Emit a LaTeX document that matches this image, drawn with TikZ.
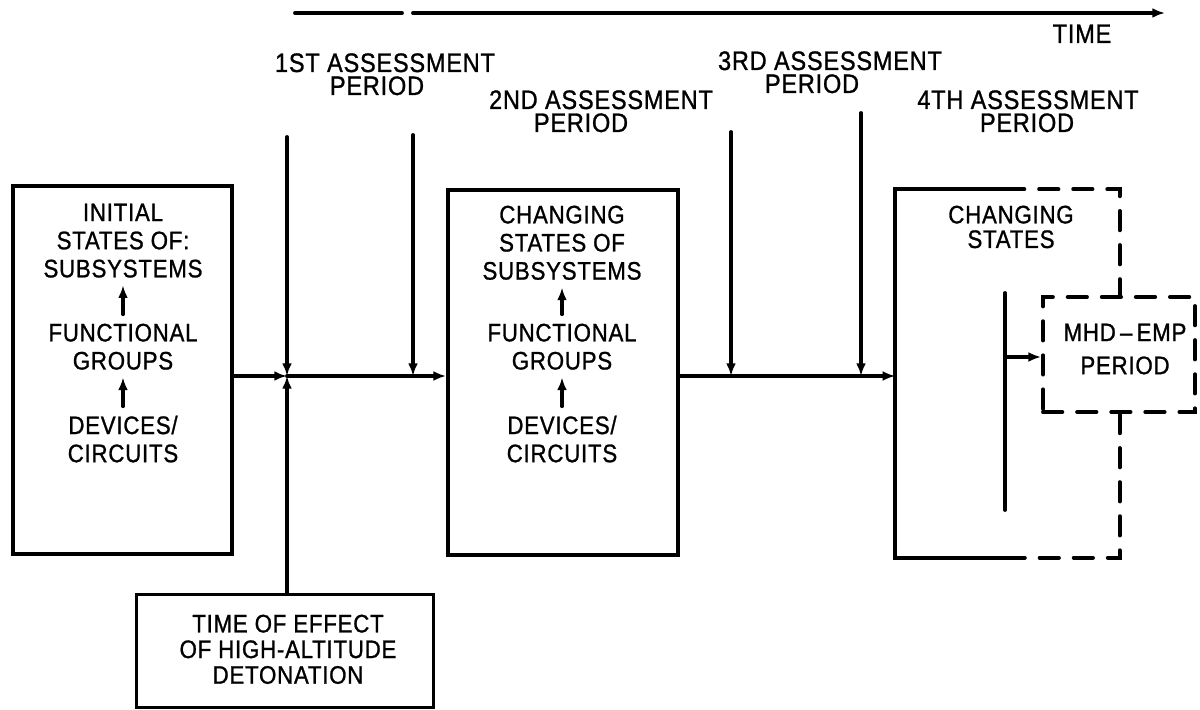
\documentclass[tikz,border=0pt]{standalone}
\usepackage{fontspec}
\usetikzlibrary{arrows.meta}
\newfontfamily\lettering[LetterSpace=3,FakeStretch=0.88,FakeBold=1]{Liberation Sans}

\tikzset{
  head/.style={font=\lettering\fontsize{7.6}{6}\selectfont, inner sep=0pt, anchor=base},
  txt/.style={font=\lettering\fontsize{7.2}{#1}\selectfont, align=center, inner sep=0pt, anchor=north},
  txt/.default=8pt,
  blk/.style={draw, line width=1.1pt},
  flow/.style={line width=1.1pt, -{Latex[length=3.6pt,width=2.8pt]}},
  brk/.style={line width=1.1pt, dash pattern=on 5.5pt off 4.2pt},
}

\begin{document}
\begin{tikzpicture}[x=0.1mm,y=-0.1mm,line cap=round]
\useasboundingbox (0,0) rectangle (1200,710);

% time axis
\coordinate (t0) at (295,13);
\coordinate (t1) at (402,13);
\coordinate (t2) at (413,13);
\coordinate (t3) at (1165,13);
\draw[line width=1.1pt] (t0) -- (t1);
\draw[flow] (t2) -- (t3);
\node[head, anchor=base west] (time) at (1052,43) {TIME};

% assessment periods
\foreach \n/\t/\x/\px/\y in {1/1ST/385/377/72, 2/2ND/601/581/109, 3/3RD/830/812/70, 4/4TH/1028/1027/109} {
  \node[head] (as\n) at (\x,\y) {\t\ ASSESSMENT};
  \node[head] (per\n) at (\px,\y+23) {PERIOD};
}

% boxes
\node[blk, minimum width=21.9mm, minimum height=36.8mm] (ini) at (122.5,370) {};
\node[blk, minimum width=23mm, minimum height=36.5mm] (cs) at (563,372.5) {};
\node[minimum width=22.3mm, minimum height=36.7mm] (chg) at (1007.5,373.5) {};
\node[draw, brk, minimum width=15.2mm, minimum height=11.5mm] (mhd) at (1119,354.5) {};
\node[blk, minimum width=29.7mm, minimum height=11.3mm] (det) at (285,651) {};

% last box: solid left half, broken right half
\coordinate (bar1) at (1005,293);
\coordinate (bar2) at (1005,510);
\draw[line width=1.1pt] (bar1 |- chg.north) -- (chg.north west) -- (chg.south west) -- (bar1 |- chg.south);
\draw[brk] (bar1 |- chg.north) -- (chg.north east) -- (chg.east |- mhd.north);
\draw[brk] (chg.east |- mhd.south) -- (chg.south east) -- (bar1 |- chg.south);
\draw[line width=1.1pt] (bar1) -- (bar2);
\coordinate (tap) at (1005,357);
\draw[flow] (tap) -- (tap -| mhd.west);

% box texts
\node[txt] (ini1) at (123,203) {INITIAL\\STATES OF:\\SUBSYSTEMS};
\node[txt] (ini2) at (123,323) {FUNCTIONAL\\GROUPS};
\node[txt] (ini3) at (123,415) {DEVICES/\\CIRCUITS};
\node[txt] (cs1) at (562,205) {CHANGING\\STATES OF\\SUBSYSTEMS};
\node[txt] (cs2) at (562,323) {FUNCTIONAL\\GROUPS};
\node[txt] (cs3) at (562,415) {DEVICES/\\CIRCUITS};
\node[txt=7pt] (chg1) at (1011,205) {CHANGING\\STATES};
\node[txt=9.4pt] (mhd1) at (1125,323) {MHD\,–\,EMP\\PERIOD};
\node[txt=7.3pt] (det1) at (288,614) {TIME OF EFFECT\\OF HIGH-ALTITUDE\\DETONATION};

\foreach \a/\b in {ini3/ini2, ini2/ini1, cs3/cs2, cs2/cs1}
  \draw[flow, shorten <=2.5pt, shorten >=2pt] (\a) -- (\b);

% main line and period markers
\coordinate (j1) at (287,376);
\draw[flow] (ini.east |- j1) -- (j1);
\draw[flow] (j1) -- (j1 -| cs.west);
\draw[flow] (j1 -| cs.east) -- (j1 -| chg.west);
\foreach \p/\px/\py in {p1/287/137, p2/413/135, p3/731/132, p4/861/113} {
  \coordinate (\p) at (\px,\py);
  \draw[flow] (\p) -- (\p |- j1);
}
\draw[flow] (det.north -| j1) -- (j1);
\end{tikzpicture}
\end{document}
